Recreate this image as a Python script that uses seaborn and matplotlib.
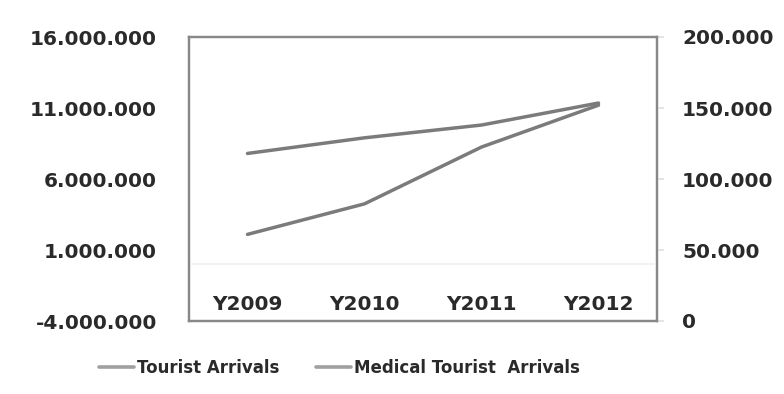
import matplotlib
matplotlib.use("Agg")
import matplotlib.pyplot as plt
import seaborn as sns
import pandas as pd
from matplotlib.ticker import FuncFormatter
from matplotlib.lines import Line2D

years = ["Y2009", "Y2010", "Y2011", "Y2012"]
tourist_arrivals = [7800000, 8900000, 9800000, 11350000]
medical_tourist_arrivals = [61000, 82500, 122500, 152000]

left_ticks = [-4000000, 1000000, 6000000, 11000000, 16000000]
right_ticks = [0, 50000, 100000, 150000, 200000]

sns.set_theme(style="white")
plt.rcParams['font.family'] = ['DejaVu Sans']

df = pd.DataFrame({"x": range(len(years)), "ta": tourist_arrivals, "mta": medical_tourist_arrivals})

fig = plt.figure(figsize=(7.84, 3.94), dpi=100)
ax = fig.add_axes([189/784, 1-321/394, (657-189)/784, (321-37)/394])
ax2 = ax.twinx()

line_col = "#7b7b7b"
sns.lineplot(data=df, x="x", y="ta", ax=ax, color=line_col, lw=2.5, legend=False)
sns.lineplot(data=df, x="x", y="mta", ax=ax2, color=line_col, lw=2.5, legend=False)

ax.set_xlim(-0.5, 3.5)
ax.set_ylim(left_ticks[0], left_ticks[-1])
ax2.set_ylim(right_ticks[0], right_ticks[-1])
ax.set_yticks(left_ticks)
ax2.set_yticks(right_ticks)

dotfmt = FuncFormatter(lambda v, p: f"{int(v):,}".replace(",", "."))
ax.yaxis.set_major_formatter(dotfmt)
ax2.yaxis.set_major_formatter(dotfmt)

ax.set_xticks(range(len(years)))
ax.set_xticklabels(years)
ax.set_xlabel("")
ax.set_ylabel("")
ax2.set_ylabel("")

ax.axhline(0, color="#f3f3f3", lw=1.5, zorder=5, clip_on=False)

for a in (ax, ax2):
    for s in a.spines.values():
        s.set_color("#888888")
        s.set_linewidth(1.6)
    a.grid(False)

tc = "#2a2a2a"
ax.tick_params(axis="y", left=False, pad=17, labelsize=14.5, labelcolor=tc)
ax.tick_params(axis="x", bottom=False, pad=-25, labelsize=14.5, labelcolor=tc)
ax2.tick_params(axis="y", right=True, length=5, color="#e0e0e0", pad=13, labelsize=14.5, labelcolor=tc)
for lab in ax.get_yticklabels() + ax.get_xticklabels() + ax2.get_yticklabels():
    lab.set_fontweight("bold")

handles = [Line2D([], [], color="#a0a0a0", lw=2.6), Line2D([], [], color="#a0a0a0", lw=2.6)]
leg = fig.legend(handles, ["Tourist Arrivals", "Medical Tourist  Arrivals"], loc="center left",
                 bbox_to_anchor=(92/784, 1-368/394), ncol=2, frameon=False,
                 prop={"weight": "bold", "size": 12}, handlelength=2.1, handletextpad=0.2,
                 columnspacing=2.2, borderaxespad=0)
for t in leg.get_texts():
    t.set_color(tc)

fig.savefig("out.png", dpi=100, facecolor="white")
